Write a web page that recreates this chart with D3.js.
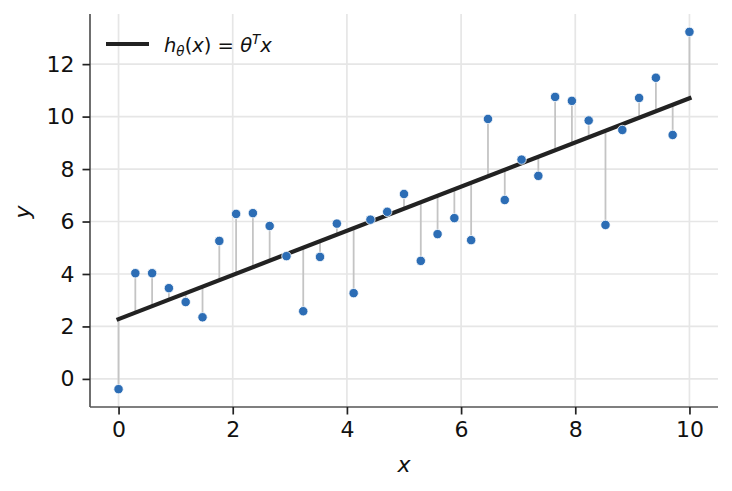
<!DOCTYPE html>
<html>
<head>
<meta charset="utf-8">
<script src="https://cdn.jsdelivr.net/npm/d3@7"></script>
<style>
  body { margin: 0; background: #fff; }
  svg { font-family: "DejaVu Sans", sans-serif; }
</style>
</head>
<body>
<svg id="chart" width="732" height="491"></svg>
<script>
// sample inputs (evenly spaced from 0 to 10)
var xs = [0, 0.294, 0.588, 0.882, 1.176, 1.471, 1.765, 2.059, 2.353, 2.647,
          2.941, 3.235, 3.529, 3.824, 4.118, 4.412, 4.706, 5.0, 5.294, 5.588,
          5.882, 6.176, 6.471, 6.765, 7.059, 7.353, 7.647, 7.941, 8.235, 8.529,
          8.824, 9.118, 9.412, 9.706, 10];
// observed targets
var ys = [-0.39, 4.03, 4.03, 3.46, 2.93, 2.35, 5.26, 6.29, 6.32, 5.83,
          4.68, 2.58, 4.65, 5.92, 3.27, 6.07, 6.37, 7.05, 4.50, 5.52,
          6.13, 5.29, 9.91, 6.82, 8.36, 7.74, 10.75, 10.60, 9.85, 5.87,
          9.49, 10.71, 11.48, 9.30, 13.23];
// fitted parameters [intercept, slope]
var theta = [2.28, 0.842];
var xTicks = [0, 2, 4, 6, 8, 10];
var yTicks = [0, 2, 4, 6, 8, 10, 12];

(function () {
    var svg = d3.select('#chart')
    var pL = 90, pR = 718, pT = 14, pB = 407

    function h(v) { return theta[0] + theta[1] * v }

    var xExt = d3.extent(xs), yExt = d3.extent(ys)
    var xPad = (xExt[1] - xExt[0]) * 0.05, yPad = (yExt[1] - yExt[0]) * 0.05

    var x = d3.scaleLinear().domain([xExt[0] - xPad, xExt[1] + xPad]).range([pL, pR])
    var y = d3.scaleLinear().domain([yExt[0] - yPad, yExt[1] + yPad]).range([pB, pT])

    var data = xs.map(function(d, i) { return {x: d, y: ys[i]} })

    // grid
    var grid = svg.append('g').attr('stroke', '#e6e6e6').attr('stroke-width', 1.7)
    grid.selectAll('.gx').data(xTicks).enter().append('line')
        .attr('x1', function(d) { return x(d) }).attr('x2', function(d) { return x(d) })
        .attr('y1', pT).attr('y2', pB)
    grid.selectAll('.gy').data(yTicks).enter().append('line')
        .attr('y1', function(d) { return y(d) }).attr('y2', function(d) { return y(d) })
        .attr('x1', pL).attr('x2', pR)

    // residuals
    svg.append('g').selectAll('line').data(data).enter().append('line')
        .attr('x1', function(d) { return x(d.x) }).attr('x2', function(d) { return x(d.x) })
        .attr('y1', function(d) { return y(d.y) }).attr('y2', function(d) { return y(h(d.x)) })
        .attr('stroke', '#c4c4c4').attr('stroke-width', 1.8)

    // fitted line
    svg.append('line')
        .attr('x1', x(xExt[0])).attr('y1', y(h(xExt[0])))
        .attr('x2', x(xExt[1])).attr('y2', y(h(xExt[1])))
        .attr('stroke', '#222').attr('stroke-width', 4.2).attr('stroke-linecap', 'square')

    // points
    svg.append('g').selectAll('circle').data(data).enter().append('circle')
        .attr('cx', function(d) { return x(d.x) })
        .attr('cy', function(d) { return y(d.y) })
        .attr('r', 4.7)
        .attr('fill', '#2c6db5')
        .attr('stroke', '#fff').attr('stroke-width', 0.8)

    // axes
    var xAxis = svg.append('g').attr('transform', 'translate(0,' + pB + ')')
        .call(d3.axisBottom(x).tickValues(xTicks).tickSize(7.5).tickPadding(7).tickSizeOuter(0))
    var yAxis = svg.append('g').attr('transform', 'translate(' + pL + ',0)')
        .call(d3.axisLeft(y).tickValues(yTicks).tickSize(7.5).tickPadding(8).tickSizeOuter(0))

    ;[xAxis, yAxis].forEach(function(a) {
        a.attr('font-size', null).attr('font-family', null)
        a.select('.domain').attr('stroke', '#555').attr('stroke-width', 1.7)
        a.selectAll('.tick line').attr('stroke', '#222').attr('stroke-width', 1.7)
        a.selectAll('.tick text').attr('fill', '#111')
            .style('font-size', '22px').style('font-family', '"DejaVu Sans", sans-serif')
    })
    yAxis.select('.domain').attr('d', 'M0,' + pB + 'V' + pT)
    xAxis.select('.domain').attr('d', 'M' + pL + ',0H' + pR)

    // axis labels
    svg.append('text').attr('x', (pL + pR) / 2).attr('y', 472)
        .attr('text-anchor', 'middle').style('font-size', '22px').style('font-style', 'italic')
        .attr('fill', '#111').text('x')
    svg.append('text').attr('transform', 'translate(30,212) rotate(-90)')
        .attr('text-anchor', 'middle').style('font-size', '22px').style('font-style', 'italic')
        .attr('fill', '#111').text('y')

    // legend
    var lg = svg.append('g')
    lg.append('line').attr('x1', 106).attr('x2', 149).attr('y1', 44).attr('y2', 44)
        .attr('stroke', '#222').attr('stroke-width', 4.2)
    var t = lg.append('text').attr('x', 164).attr('y', 52).attr('fill', '#111')
        .style('font-size', '19.5px')
    t.append('tspan').style('font-style', 'italic').text('h')
    t.append('tspan').style('font-style', 'italic').style('font-size', '13.5px').attr('dy', 4).text('θ')
    t.append('tspan').attr('dy', -4).text('(')
    t.append('tspan').style('font-style', 'italic').text('x')
    t.append('tspan').text(') = ')
    t.append('tspan').style('font-style', 'italic').text('θ')
    t.append('tspan').style('font-style', 'italic').style('font-size', '13.5px').attr('dy', -8).text('T')
    t.append('tspan').style('font-style', 'italic').attr('dy', 8).text('x')
})()
</script>
</body>
</html>
